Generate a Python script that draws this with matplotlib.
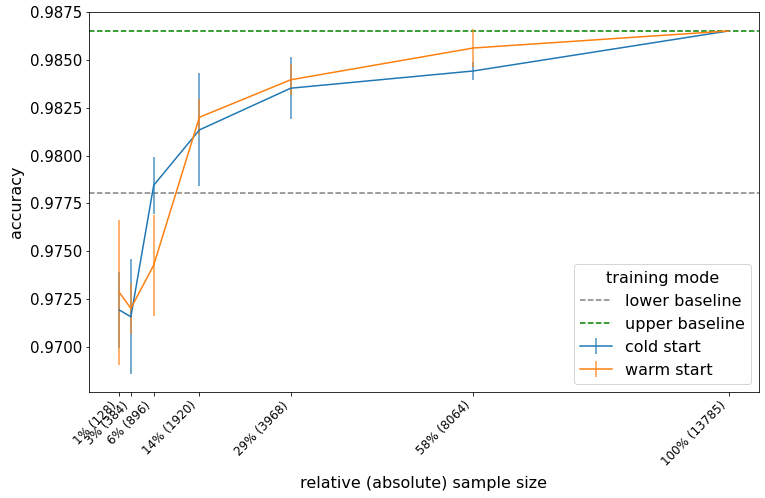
import matplotlib
matplotlib.use('Agg')
import matplotlib.pyplot as plt

# sample sizes and tick labels
sizes = [128, 384, 896, 1920, 3968, 8064, 13785]
tick_labels = ['1% (128)', '3% (384)', '6% (896)', '14% (1920)',
               '29% (3968)', '58% (8064)', '100% (13785)']

# accuracy (mean, std) per training mode
cold_mean = [0.97193, 0.97158, 0.97845, 0.98134, 0.98352, 0.98442, 0.98651]
cold_err = [0.00200, 0.00300, 0.00150, 0.00295, 0.00162, 0.00047, 0.0]
warm_mean = [0.97284, 0.97202, 0.97428, 0.98200, 0.98396, 0.98562, 0.98651]
warm_err = [0.00378, 0.00133, 0.00264, 0.00095, 0.00080, 0.00098, 0.0]

lower_baseline = 0.97805
upper_baseline = 0.98651

fig = plt.figure(figsize=(765 / 72, 498 / 72), dpi=72)
ax = fig.add_axes([89 / 765, 1 - 392 / 498, (759 - 89) / 765, (392 - 12) / 498])

ax.axhline(lower_baseline, color='grey', linestyle='--', linewidth=1.5, label='lower baseline')
ax.axhline(upper_baseline, color='green', linestyle='--', linewidth=1.5, label='upper baseline')

for mean, err, lab in [(cold_mean, cold_err, 'cold start'), (warm_mean, warm_err, 'warm start')]:
    eb = ax.errorbar(sizes, mean, yerr=err, label=lab, linewidth=1.5)
    for coll in eb[2]:
        coll.set_alpha(0.8)

ax.set_xlim(-555, 14468)
ax.set_ylim(0.96765, 0.9875)
ax.set_xticks(sizes)
ax.set_xticklabels(tick_labels, rotation=45, ha='right', fontsize=12)
ax.set_yticks([0.9700, 0.9725, 0.9750, 0.9775, 0.9800, 0.9825, 0.9850, 0.9875])
ax.set_yticklabels(['%.4f' % v for v in ax.get_yticks()], fontsize=15)
ax.set_xlabel('relative (absolute) sample size', fontsize=16, labelpad=8)
ax.set_ylabel('accuracy', fontsize=16, labelpad=6)

ax.legend(title='training mode', loc='lower right', fontsize=16, title_fontsize=16)

fig.savefig('out.png', dpi=72)
